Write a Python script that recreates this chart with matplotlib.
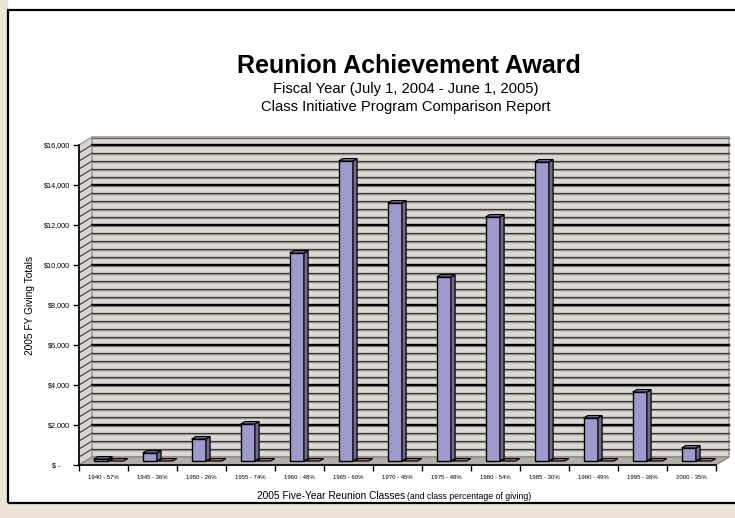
import matplotlib.pyplot as plt
import numpy as np
from matplotlib.patches import Rectangle, Polygon

plt.rcParams['font.family'] = ['Liberation Sans', 'DejaVu Sans']

classes = ["1940 - 57%", "1945 - 36%", "1950 - 26%", "1955 - 74%", "1960 - 48%",
           "1965 - 60%", "1970 - 45%", "1975 - 48%", "1980 - 54%", "1985 - 30%",
           "1990 - 49%", "1995 - 38%", "2000 - 35%"]
totals = [100, 400, 1100, 1850, 10400, 15000, 12900, 9200, 12200, 14950, 2150, 3450, 650]
second = [0, 0, 0, 0, 0, 0, 0, 0, 0, 0, 0, 0, 0]
yticks = [0, 2000, 4000, 6000, 8000, 10000, 12000, 14000, 16000]
ytick_labels = ["$ -     ", "$2,000", "$4,000", "$6,000", "$8,000", "$10,000",
                "$12,000", "$14,000", "$16,000"]

# oblique "3D" offsets (category units / dollars)
WX, WY = 0.265, 400      # wall depth
BDX, BDY = 0.085, 120    # bar depth
BASE = 200               # bars sit a bit back on the floor
YMAX = 16000
n = len(classes)

fig = plt.figure(figsize=(7.35, 5.18), dpi=100)
fig.patch.set_facecolor("white")
# beige page strips and the chart border
fig.patches.append(Rectangle((0, 0), 7/735, 1, transform=fig.transFigure,
                             color="#eee4d8", zorder=0))
fig.patches.append(Rectangle((0, 0), 1, 14/518, transform=fig.transFigure,
                             color="#eee4d8", zorder=0))
fig.patches.append(Rectangle((8/735, 15/518), 1.0, 493/518, transform=fig.transFigure,
                             fill=False, edgecolor="black", lw=1.6, zorder=1))

ax = fig.add_axes([79/735, 53/518, 637/735, 320/518])
ax.set_xlim(0, n)
ax.set_ylim(0, YMAX)
ax.patch.set_visible(False)
for s in ["top", "right"]:
    ax.spines[s].set_visible(False)
ax.spines["left"].set_linewidth(1.2)
ax.spines["bottom"].set_linewidth(1.2)
ax.spines["left"].set_zorder(6)
ax.spines["bottom"].set_zorder(6)

# back wall, side wall, floor
ax.add_patch(Rectangle((WX, WY), n, YMAX, facecolor="#dcd8d2", edgecolor="#a39d98",
                       lw=1.2, clip_on=False, zorder=1))
ax.add_patch(Polygon([(0, 0), (WX, WY), (WX, YMAX + WY), (0, YMAX)], closed=True,
                     facecolor="#d8d4ce", edgecolor="#a39d98", lw=1.0,
                     clip_on=False, zorder=1))
ax.add_patch(Polygon([(0, 0), (n, 0), (n + WX, WY), (WX, WY)], closed=True,
                     facecolor="#b3ada7", edgecolor="#8f8984", lw=1.0,
                     clip_on=False, zorder=2))

# gridlines on the wall and the side wall
for v in np.arange(400, YMAX, 400):
    major = v % 2000 == 1600
    ax.plot([WX, n + WX], [v + WY - 55, v + WY - 55], color="#9a9692", lw=1.0,
            clip_on=False, zorder=2)
    ax.plot([WX, n + WX], [v + WY, v + WY], color="black" if major else "#3a3a3a",
            lw=1.7 if major else 0.9, clip_on=False, zorder=2)
    ax.plot([0, WX], [v, v + WY], color="#3a3a3a", lw=0.8, clip_on=False, zorder=2)
ax.plot([WX, n + WX], [YMAX + WY - 55, YMAX + WY - 55], color="#6a6662", lw=1.0,
        clip_on=False, zorder=2)

# bars
left1 = np.arange(n) + 0.30
left2 = np.arange(n) + 0.62
bw = 0.29

for x, v in zip(left2, second):
    ax.add_patch(Polygon([(x, BASE + v), (x + bw, BASE + v), (x + bw + BDX, BASE + v + BDY),
                          (x + BDX, BASE + v + BDY)], closed=True, facecolor="#b87c88",
                         edgecolor="black", lw=0.9, clip_on=False, zorder=3))

ax.bar(left1, totals, bw, bottom=BASE, align="edge", color="#9e9acc",
       edgecolor="black", lw=1.0, zorder=4)
for x, v in zip(left1, totals):
    top = BASE + v
    ax.add_patch(Polygon([(x + bw, BASE), (x + bw + BDX, BASE + BDY),
                          (x + bw + BDX, top + BDY), (x + bw, top)], closed=True,
                         facecolor="#6f6a8e", edgecolor="black", lw=0.9, zorder=4))
    ax.add_patch(Polygon([(x, top), (x + bw, top), (x + bw + BDX, top + BDY),
                          (x + BDX, top + BDY)], closed=True, facecolor="#8783b6",
                         edgecolor="black", lw=0.9, zorder=4))

# axes ticks and labels
ax.set_yticks(yticks)
ax.set_yticklabels(ytick_labels, fontsize=5.2)
ax.tick_params(axis="y", length=4.5, width=1.0, pad=2)
ax.set_xticks(np.arange(n + 1))
ax.set_xticklabels([])
ax.tick_params(axis="x", which="major", length=4, width=1.0)
ax.set_xticks(np.arange(n) + 0.5, minor=True)
ax.set_xticklabels(classes, minor=True, fontsize=4.3)
ax.tick_params(axis="x", which="minor", length=0, pad=7)

ax.set_ylabel("2005 FY Giving Totals", fontsize=7.3, labelpad=6)

fig.text(405/735, 1 - 499/518, "2005 Five-Year Reunion Classes", fontsize=7.3,
         ha="right", va="baseline")
fig.text(407/735, 1 - 499/518, "(and class percentage of giving)", fontsize=6.3,
         ha="left", va="baseline")

fig.text(409/735, 1 - 66/518, "Reunion Achievement Award", fontsize=18,
         fontweight="bold", ha="center", va="center")
fig.text(406/735, 1 - 89/518, "Fiscal Year (July 1, 2004 - June 1, 2005)",
         fontsize=10.6, ha="center", va="center")
fig.text(406/735, 1 - 107/518, "Class Initiative Program Comparison Report",
         fontsize=10.6, ha="center", va="center")

plt.savefig("out.png", dpi=100)
